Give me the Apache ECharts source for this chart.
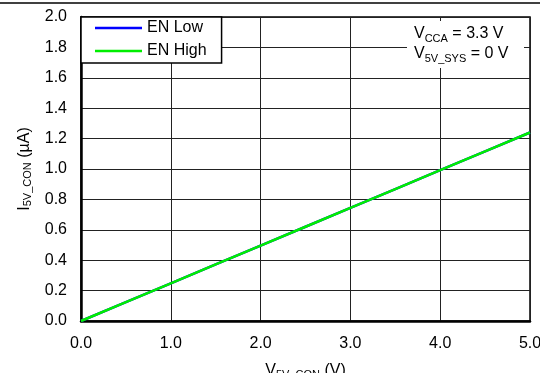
<!DOCTYPE html>
<html>
<head>
<meta charset="utf-8">
<script src="https://cdn.jsdelivr.net/npm/echarts@6/dist/echarts.min.js"></script>
<style>html,body{margin:0;padding:0;background:#fff}#c{width:540px;height:373px}</style>
</head>
<body>
<div id="c"></div>
<script>
var seriesNames = ['EN Low', 'EN High'];
var seriesColors = ['#0000ff', '#00ee00'];
var xValues = [0, 0.5, 1.0, 1.5, 2.0, 2.5, 3.0, 3.5, 4.0, 4.5, 5.0];
var enLow  = [0, 0.124, 0.248, 0.372, 0.496, 0.62, 0.744, 0.868, 0.992, 1.116, 1.24];
var enHigh = [0, 0.124, 0.248, 0.372, 0.496, 0.62, 0.744, 0.868, 0.992, 1.116, 1.24];

function pairs(ys){ return xValues.map(function(x,i){ return [x, ys[i]]; }); }
var FONT = '"Liberation Sans", Arial, sans-serif';
var FS = 16;

var chart = echarts.init(document.getElementById('c'), null, {renderer:'canvas'});
chart.setOption({
  animation: false,
  backgroundColor: '#fff',
  grid: { left: 81, right: 10, top: 17, bottom: 52, show: true, borderColor: '#000', borderWidth: 1.5, containLabel: false, outerBoundsMode: 'none' },
  legend: {
    left: 81, top: 17, orient: 'vertical',
    data: seriesNames.map(function(n){ return {name: n, icon: 'rect'}; }),
    itemWidth: 47, itemHeight: 2.5, itemGap: 5,
    padding: [2, 15, 3, 14],
    borderColor: '#000', borderWidth: 1.5, backgroundColor: '#fff',
    textStyle: { fontFamily: FONT, fontSize: FS, color: '#000', lineHeight: 18 }
  },
  xAxis: {
    type: 'value', min: 0, max: 5, interval: 1,
    axisLine: { show: true, onZero: false, lineStyle: { color: '#000', width: 2.5 } },
    axisTick: { show: false },
    splitLine: { show: true, lineStyle: { color: '#222', width: 1 } },
    axisLabel: { fontFamily: FONT, fontSize: FS, color: '#000', margin: 15, formatter: function(v){ return v.toFixed(1); } },
    name: '{m|V}{s|5V_CON}{m| (V)}', nameLocation: 'middle', nameGap: 41,
    nameTextStyle: { rich: { m: { fontFamily: FONT, fontSize: FS, color: '#000' }, s: { fontFamily: FONT, fontSize: 11, color: '#000', verticalAlign: 'bottom', padding: [7,0,0,0] } } }
  },
  yAxis: {
    type: 'value', min: 0, max: 2, interval: 0.2,
    axisLine: { show: true, onZero: false, lineStyle: { color: '#000', width: 2.5 } },
    axisTick: { show: false },
    splitLine: { show: true, lineStyle: { color: '#222', width: 1 } },
    axisLabel: { fontFamily: FONT, fontSize: FS, color: '#000', margin: 14, formatter: function(v){ return v.toFixed(1); } },
    name: '{m|I}{s|5V_CON}{m| (µA)}', nameLocation: 'middle', nameGap: 46, nameRotate: 90,
    nameTextStyle: { rich: { m: { fontFamily: FONT, fontSize: FS, color: '#000' }, s: { fontFamily: FONT, fontSize: 11, color: '#000', verticalAlign: 'bottom', padding: [7,0,0,0] } } }
  },
  graphic: [
    { type: 'line', shape: { x1: 0, y1: 3, x2: 540, y2: 3 }, style: { stroke: '#000', lineWidth: 1.5 }, z: 100 },
    { type: 'rect', shape: { x: 407, y: 21, width: 117, height: 47 }, style: { fill: '#fff' }, z: 50 },
    { type: 'text', left: 414, top: 26, z: 51,
      style: { text: '{m|V}{s|CCA}{m| = 3.3 V}\n{m|V}{s|5V_SYS}{m| = 0 V}',
        rich: { m: { fontFamily: FONT, fontSize: FS, color: '#000', lineHeight: 20 }, s: { fontFamily: FONT, fontSize: 11, color: '#000', lineHeight: 20, verticalAlign: 'bottom', padding: [7,0,0,0] } } } }
  ],
  series: [
    { name: seriesNames[0], type: 'line', data: pairs(enLow), showSymbol: false, color: seriesColors[0], lineStyle: { width: 2.5, color: seriesColors[0] }, z: 3 },
    { name: seriesNames[1], type: 'line', data: pairs(enHigh), showSymbol: false, color: seriesColors[1], lineStyle: { width: 2.5, color: seriesColors[1] }, z: 4 }
  ]
});
</script>
</body>
</html>
